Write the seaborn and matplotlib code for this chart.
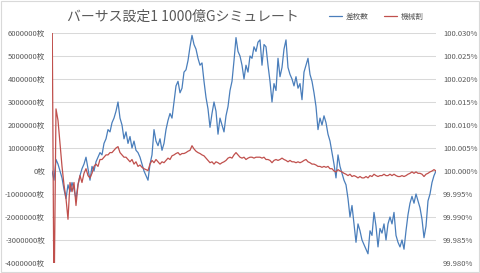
import numpy as np
import pandas as pd
import matplotlib
matplotlib.use("Agg")
import matplotlib.pyplot as plt
from matplotlib.patches import Rectangle
from matplotlib.lines import Line2D
import seaborn as sns

sns.set_theme(style="white")
plt.rcParams['font.family'] = ['Noto Sans CJK JP', 'DejaVu Sans']

title = "バーサス設定1 1000億Gシミュレート"
series_names = ["差枚数", "機械割"]

# 差枚数 (unit: million 枚), evenly spaced over 1000億G
diff_mil = [
    0.0, -0.4, 0.5, 0.3, 0.0, -0.3, -0.8, -1.2, -0.6, -0.9,
    -0.5, -0.8, -1.2, -0.6, -0.2, 0.1, 0.3, 0.6, 0.1, -0.4,
    0.2, 0.0, 0.4, 0.6, 0.8, 0.7, 1.2, 1.4, 1.8, 1.7,
    2.1, 2.3, 2.6, 3.0, 2.3, 2.0, 1.4, 1.7, 1.2, 1.5,
    1.0, 1.3, 0.9, 0.8, 0.6, 0.3, 0.0, -0.2, -0.4, 0.3,
    0.7, 1.8, 1.3, 1.1, 1.4, 0.9, 1.2, 1.8, 2.2, 2.5,
    2.3, 3.0, 3.7, 3.9, 3.4, 3.6, 4.3, 4.4, 4.8, 5.4,
    5.9, 5.5, 5.3, 4.9, 4.6, 4.7, 3.9, 3.2, 2.7, 1.9,
    2.5, 3.0, 2.6, 1.6, 2.3, 2.0, 1.7, 2.4, 2.8, 3.5,
    3.9, 4.8, 5.8, 5.2, 5.0, 4.6, 4.0, 4.6, 4.3, 5.0,
    4.9, 5.4, 5.2, 5.6, 5.7, 4.6, 5.5, 5.4, 4.6, 3.9,
    3.0, 3.8, 3.5, 4.9, 4.1, 4.5, 5.3, 5.7, 4.5, 4.2,
    4.0, 3.7, 4.1, 3.6, 3.8, 3.1, 4.3, 4.6, 4.9, 4.2,
    3.9, 3.4, 2.8, 1.8, 2.3, 2.0, 2.4, 2.1, 1.6, 1.3,
    0.8, 0.3, -0.3, 0.7, 0.2, -0.1, -0.4, -0.6, -1.2, -2.0,
    -1.5, -2.3, -3.1, -2.3, -2.6, -3.0, -3.2, -3.4, -3.6, -2.6,
    -2.8, -1.8, -2.4, -3.3, -2.5, -2.7, -2.3, -3.0, -2.3, -2.0,
    -2.3, -1.8, -2.8, -3.1, -3.3, -3.0, -3.4, -2.6, -1.9, -1.4,
    -1.1, -1.4, -1.0, -1.3, -1.6, -2.1, -2.9, -2.4, -1.3, -1.0,
    -0.5, -0.2, 0.0,
]

# 機械割 (%)
rate_pct = [
    100.04, 99.97, 100.0135, 100.011, 100.006, 100.001, 99.997, 99.994, 99.9895, 99.9975,
    99.9955, 99.9975, 99.9925, 99.997, 99.999, 99.9975, 99.9995, 100.0005, 99.999, 99.9985,
    99.9995, 100.001, 100.0015, 100.001, 100.0025, 100.0025, 100.003, 100.0035, 100.0035, 100.004,
    100.004, 100.0045, 100.005, 100.0053, 100.004, 100.0035, 100.003, 100.003, 100.0025, 100.002,
    100.0025, 100.0015, 100.002, 100.001, 100.0013, 100.0008, 100.0005, 100.0003, 100.0001, 100.0015,
    100.0023, 100.0018, 100.0025, 100.002, 100.0015, 100.002, 100.0018, 100.0023, 100.0028, 100.0025,
    100.0033, 100.0035, 100.0038, 100.004, 100.0035, 100.0038, 100.0038, 100.004, 100.0043, 100.0045,
    100.0055, 100.0048, 100.0043, 100.004, 100.0038, 100.0035, 100.0033, 100.0028, 100.0023, 100.0018,
    100.002, 100.0015, 100.002, 100.0018, 100.0015, 100.0018, 100.002, 100.0023, 100.0028, 100.003,
    100.0028, 100.0035, 100.004, 100.0035, 100.003, 100.0028, 100.003, 100.0025, 100.0028, 100.003,
    100.003, 100.0028, 100.003, 100.003, 100.003, 100.0028, 100.003, 100.0025, 100.0025, 100.0023,
    100.0018, 100.0023, 100.0025, 100.0023, 100.0025, 100.0028, 100.0025, 100.0023, 100.002, 100.0023,
    100.002, 100.002, 100.0018, 100.002, 100.0018, 100.002, 100.0023, 100.0025, 100.002, 100.0018,
    100.0015, 100.0015, 100.0013, 100.001, 100.001, 100.0008, 100.001, 100.0008, 100.001, 100.0005,
    100.0005, 100.0, 99.9998, 100.0003, 100.0, 99.9998, 99.9995, 99.9993, 99.999, 99.9993,
    99.9988, 99.999, 99.9988, 99.9985, 99.9988, 99.9985, 99.9985, 99.9988, 99.9985, 99.999,
    99.9988, 99.9993, 99.999, 99.9988, 99.999, 99.999, 99.9993, 99.999, 99.999, 99.9993,
    99.999, 99.9993, 99.999, 99.9988, 99.9988, 99.999, 99.9988, 99.999, 99.9993, 99.9995,
    99.9998, 99.9995, 99.9998, 99.9995, 99.9995, 99.9993, 99.9988, 99.9993, 99.9995, 99.9998,
    100.0, 100.0003, 100.0,
]

left_ticks = [-4000000, -3000000, -2000000, -1000000, 0, 1000000, 2000000, 3000000, 4000000, 5000000, 6000000]
right_ticks = [99.980, 99.985, 99.990, 99.995, 100.000, 100.005, 100.010, 100.015, 100.020, 100.025, 100.030]

n = len(diff_mil)
games = np.linspace(0, 1000, n)
df = pd.DataFrame({"games": games,
                   "diff": np.array(diff_mil) * 1e6,
                   "rate": rate_pct})

blue = "#4A7EBB"
red = "#C0504D"
txt = "#595959"
grid = "#D9D9D9"

fig = plt.figure(figsize=(4.8, 2.73), dpi=100)
fig.patch.set_facecolor("white")
ax = fig.add_axes([52/480, 1 - 263/273, (436-52)/480, (263-33)/273])
ax2 = ax.twinx()

sns.lineplot(data=df, x="games", y="diff", ax=ax, color=blue, linewidth=0.9)
sns.lineplot(data=df, x="games", y="rate", ax=ax2, color=red, linewidth=0.9)

ax.set_xlim(0, 1000)
ax.set_ylim(-4000000, 6000000)
ax2.set_ylim(99.980, 100.030)
ax.set_yticks(left_ticks)
ax.set_yticklabels([f"{v}枚" for v in left_ticks])
ax2.set_yticks(right_ticks)
ax2.set_yticklabels([f"{v:.3f}%" for v in right_ticks])
ax.set_xticks([])
for a in (ax, ax2):
    a.set_xlabel("")
    a.set_ylabel("")
    for s in a.spines.values():
        s.set_visible(False)
    a.tick_params(axis="y", length=0, labelsize=5.5, labelcolor=txt, pad=5)
ax.yaxis.grid(True, color=grid, linewidth=0.75)
ax.set_axisbelow(True)

fig.text(183/480, 1 - 17/273, title, ha="center", va="center",
         fontsize=10, color=txt)

handles = [Line2D([0], [0], color=blue, lw=0.9), Line2D([0], [0], color=red, lw=0.9)]
fig.legend(handles, series_names, loc="center left",
           bbox_to_anchor=(329/480, 1 - 17/273), ncol=2, frameon=False,
           fontsize=5.5, labelcolor=txt, handlelength=1.7, handletextpad=0.5,
           columnspacing=2.0, borderpad=0, borderaxespad=0)

fig.patches.append(Rectangle((0.002, 0.003), 0.995, 0.994, transform=fig.transFigure,
                             fill=False, edgecolor=grid, linewidth=0.8))

fig.savefig("out.png", dpi=100)
